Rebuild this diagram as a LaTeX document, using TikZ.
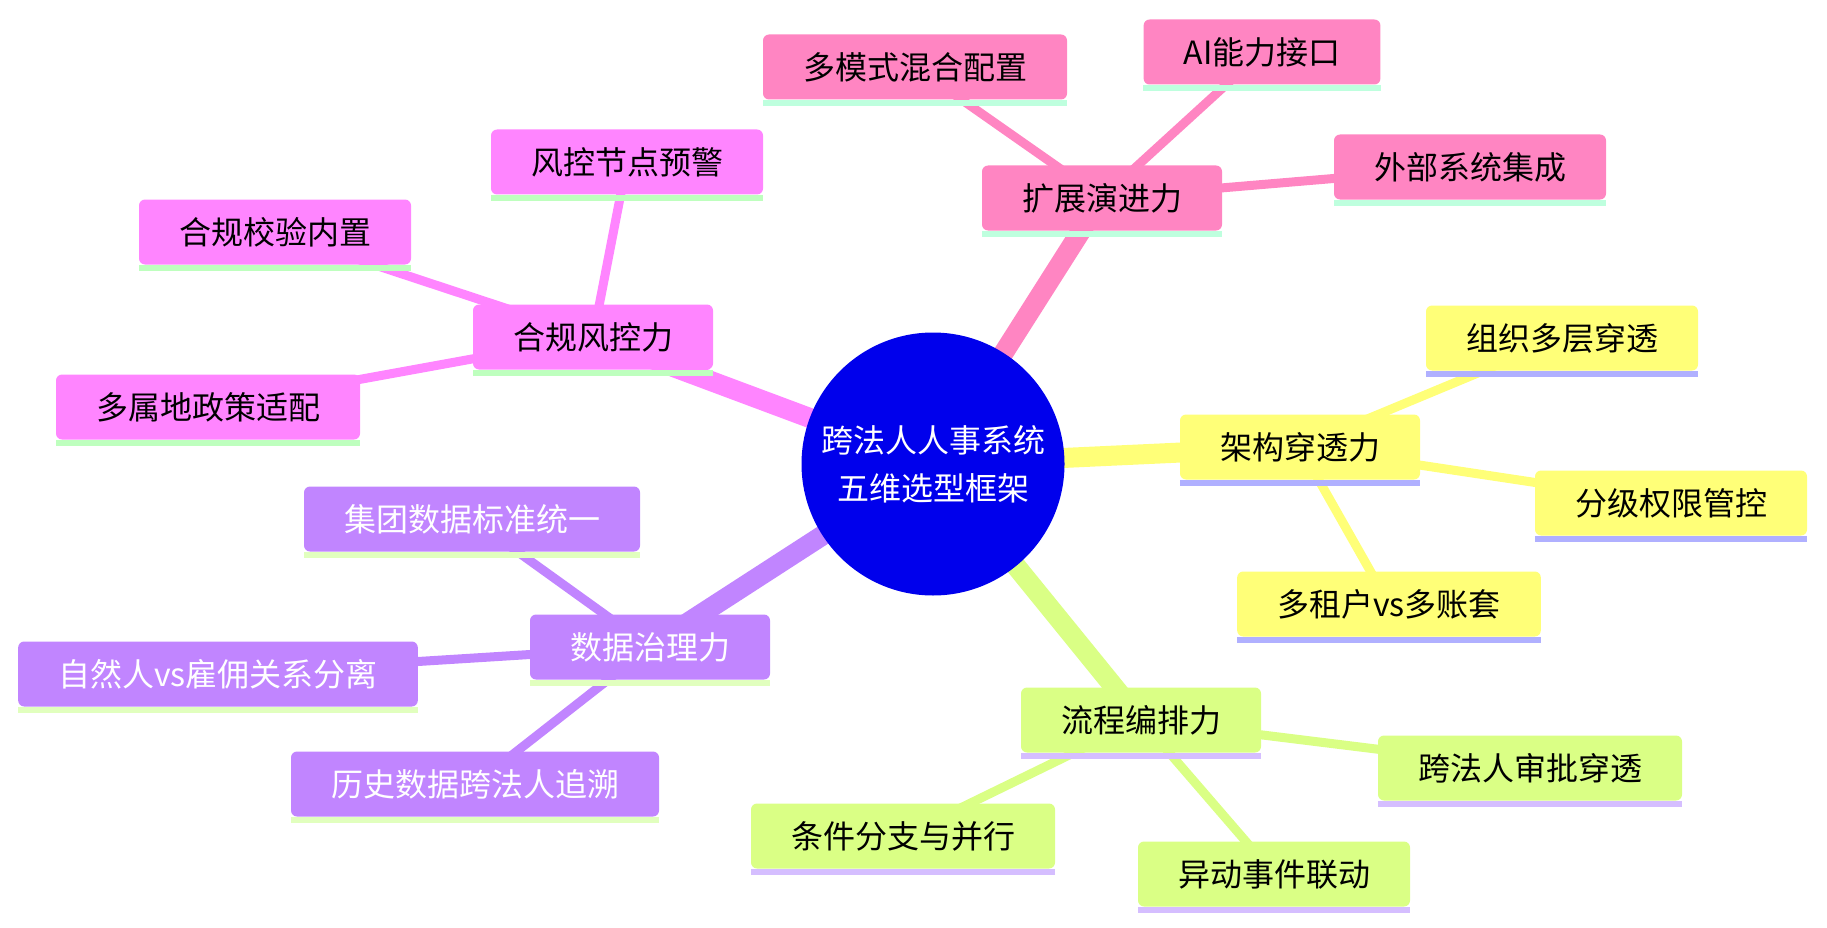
\documentclass[tikz,border=0pt]{standalone}
\usepackage{fontspec}
\setmainfont{Noto Sans CJK SC}
\usetikzlibrary{backgrounds}

\definecolor{rootblue}{RGB}{0,0,236}
\definecolor{secyellow}{RGB}{255,255,120}
\definecolor{lineyellow}{RGB}{176,176,255}
\definecolor{secgreen}{RGB}{218,255,133}
\definecolor{linegreen}{RGB}{213,190,255}
\definecolor{secpurple}{RGB}{193,133,255}
\definecolor{linepurple}{RGB}{225,255,190}
\definecolor{secmagenta}{RGB}{255,133,255}
\definecolor{linemagenta}{RGB}{190,255,190}
\definecolor{secpink}{RGB}{255,133,194}
\definecolor{linepink}{RGB}{190,255,222}

\tikzset{
  idea/.style={rectangle,rounded corners=6pt,inner xsep=40pt,inner ysep=0pt,
    minimum height=65pt,font=\fontsize{32pt}{38pt}\selectfont},
  pinkbox/.style={idea,fill=secpink},
  magbox/.style={idea,fill=secmagenta},
  purplebox/.style={idea,fill=secpurple,text=white},
  yellowbox/.style={idea,fill=secyellow},
  greenbox/.style={idea,fill=secgreen},
  trunk/.style={line width=20pt},
  twig/.style={line width=9pt},
}

\begin{document}
\begin{tikzpicture}[x=1pt,y=-1pt]
\useasboundingbox (0,0) rectangle (1827,928);

% centre
\node[circle,fill=rootblue,minimum size=263pt,inner sep=0pt,text=white,align=center,
  font=\fontsize{32pt}{48pt}\selectfont] (root) at (933,464) {跨法人人事系统\\五维选型框架};

% extension
\node[pinkbox] (ext) at (1102,198) {扩展演进力};
\node[pinkbox] (mix) at (915,67) {多模式混合配置};
\node[pinkbox] (ai) at (1262,52) {AI能力接口};
\node[pinkbox] (sys) at (1470,167) {外部系统集成};

% compliance
\node[magbox] (risk) at (593,337) {合规风控力};
\node[magbox] (warn) at (627,162) {风控节点预警};
\node[magbox] (check) at (275,232) {合规校验内置};
\node[magbox] (policy) at (208,407) {多属地政策适配};

% data
\node[purplebox] (data) at (650,647) {数据治理力};
\node[purplebox] (std) at (472,519) {集团数据标准统一};
\node[purplebox] (person) at (218,674) {自然人vs雇佣关系分离};
\node[purplebox] (trace) at (475,784) {历史数据跨法人追溯};

% architecture
\node[yellowbox] (arch) at (1300,447) {架构穿透力};
\node[yellowbox] (org) at (1562,338) {组织多层穿透};
\node[yellowbox] (perm) at (1671,503) {分级权限管控};
\node[yellowbox] (tenant) at (1389,604) {多租户vs多账套};

% workflow
\node[greenbox] (flow) at (1141,720) {流程编排力};
\node[greenbox] (appr) at (1530,768) {跨法人审批穿透};
\node[greenbox] (cond) at (903,836) {条件分支与并行};
\node[greenbox] (event) at (1274,874) {异动事件联动};

\begin{scope}[on background layer]
\draw[trunk,secpink] (root.center) -- (ext.center);
\draw[trunk,secmagenta] (root.center) -- (risk.center);
\draw[trunk,secpurple] (root.center) -- (data.center);
\draw[trunk,secyellow] (root.center) -- (arch.center);
\draw[trunk,secgreen] (root.center) -- (flow.center);
\foreach \a/\b in {ext/mix,ext/ai,ext/sys}
  \draw[twig,secpink] (\a.center) -- (\b.center);
\foreach \a/\b in {risk/warn,risk/check,risk/policy}
  \draw[twig,secmagenta] (\a.center) -- (\b.center);
\foreach \a/\b in {data/std,data/person,data/trace}
  \draw[twig,secpurple] (\a.center) -- (\b.center);
\foreach \a/\b in {arch/org,arch/perm,arch/tenant}
  \draw[twig,secyellow] (\a.center) -- (\b.center);
\foreach \a/\b in {flow/appr,flow/cond,flow/event}
  \draw[twig,secgreen] (\a.center) -- (\b.center);
\end{scope}

% underlines
\foreach \n/\c in {ext/linepink,mix/linepink,ai/linepink,sys/linepink,
  risk/linemagenta,warn/linemagenta,check/linemagenta,policy/linemagenta,
  data/linepurple,std/linepurple,person/linepurple,trace/linepurple,
  arch/lineyellow,org/lineyellow,perm/lineyellow,tenant/lineyellow,
  flow/linegreen,appr/linegreen,cond/linegreen,event/linegreen}
  \fill[\c] (\n.south west) rectangle ([yshift=-6pt]\n.south east);
\end{tikzpicture}
\end{document}
